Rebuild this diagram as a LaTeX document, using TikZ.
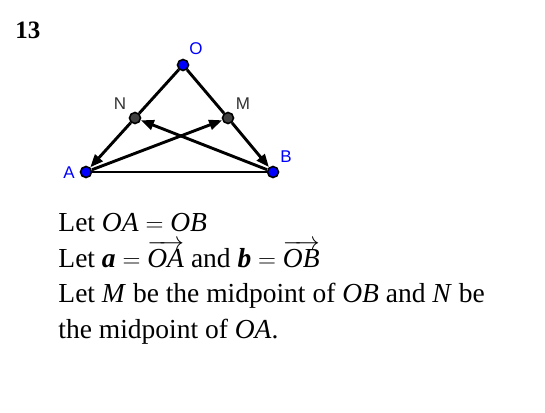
\documentclass[tikz,border=0pt]{standalone}
\usepackage{fontspec}
\setmainfont{Liberation Serif}
\newfontfamily\labelfont{Liberation Sans}
\usetikzlibrary{arrows.meta}
\begin{document}
\begin{tikzpicture}[x=1pt,y=-1pt,line width=2.9pt,
    pt/.style={circle,draw=black,line width=1.6pt,inner sep=0pt,minimum size=11pt},
    vec/.style={-{Triangle[length=13pt,width=10pt]}},
    lbl/.style={font=\labelfont\fontsize{17}{20}\selectfont},
    txt/.style={anchor=base west,inner sep=0pt,font=\fontsize{27.5}{33}\selectfont}]
    \useasboundingbox (0,0) rectangle (545,412);
    \node [anchor=base west,inner sep=0pt,font=\bfseries\fontsize{25}{28}\selectfont] (num) at (14,38) {13};
    % points of the triangle
    \node [pt,fill=blue] (O) at (183,65) {};
    \node [pt,fill=black!75] (N) at (135,118) {};
    \node [pt,fill=black!75] (M) at (228,118) {};
    \node [pt,fill=blue] (A) at (86,172) {};
    \node [pt,fill=blue] (B) at (273,172) {};
    \node [lbl,text=blue] (Olab) at (196,49) {O};
    \node [lbl,text=black!80] (Nlab) at (120,104) {N};
    \node [lbl,text=black!80] (Mlab) at (243,104) {M};
    \node [lbl,text=blue] (Alab) at (69,173) {A};
    \node [lbl,text=blue] (Blab) at (286,157) {B};
    \draw (O) -- (N);
    \draw (O) -- (M);
    \draw (A) -- (B);
    \draw [vec] (N) -- (A);
    \draw [vec] (M) -- (B);
    \draw [vec] (A) -- (M);
    \draw [vec] (B) -- (N);
    % text below
    \node [txt] (l1) at (57,231) {Let \textit{OA} $=$ \textit{OB}};
    \node [txt] (l2) at (57,267) {Let \textbf{\textit{a}} $=$ $\overrightarrow{\mbox{\textit{OA}}}$ and \textbf{\textit{b}} $=$ $\overrightarrow{\mbox{\textit{OB}}}$};
    \node [txt] (l3) at (57,302) {Let \textit{M} be the midpoint of \textit{OB} and \textit{N} be};
    \node [txt] (l4) at (57,338) {the midpoint of \textit{OA}.};
\end{tikzpicture}
\end{document}
